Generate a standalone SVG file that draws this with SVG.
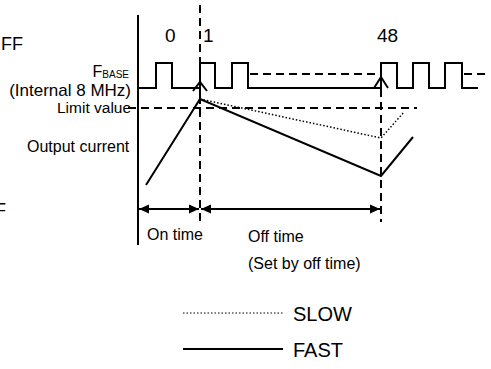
<svg xmlns="http://www.w3.org/2000/svg" width="491" height="369" viewBox="0 0 491 369">
<defs>
<style>
text{font-family:"Liberation Sans",Arial,sans-serif;fill:#000}
.lbl{font-size:16px}
.num{font-size:19px}
.leg{font-size:20px}
.s{fill:none;stroke:#000;stroke-width:2}
.d{fill:none;stroke:#000;stroke-width:2;stroke-dasharray:8,5}
.dot{fill:none;stroke:#000;stroke-width:1.5;stroke-dasharray:1.5,2}
</style>
<marker id="ah" viewBox="0 0 10 10" refX="10" refY="5" markerWidth="10" markerHeight="10" markerUnits="userSpaceOnUse" orient="auto-start-reverse">
<path d="M0,0.5 L10,5 L0,9.5 Z" fill="#000"/>
</marker>
</defs>
<rect width="491" height="369" fill="#fff"/>
<g id="clipped-labels">
<text class="lbl" x="1" y="50" style="font-size:18px">FF</text>
<text class="lbl" x="-5" y="216" style="font-size:18px">F</text>
</g>
<g id="labels">
<text class="lbl" x="129" y="77" text-anchor="end">F<tspan font-size="10" dy="1">BASE</tspan></text>
<text class="lbl" x="131" y="96" text-anchor="end" style="font-size:17px">(Internal 8 MHz)</text>
<text class="lbl" x="57" y="113" style="font-size:15.5px">Limit value</text>
<text class="lbl" x="27" y="152">Output current</text>
<text class="num" x="165" y="42">0</text>
<text class="num" x="203" y="42">1</text>
<text class="num" x="377" y="42">48</text>
<text class="lbl" x="147" y="240">On time</text>
<text class="lbl" x="248" y="242">Off time</text>
<text class="lbl" x="248" y="269">(Set by off time)</text>
</g>
<g id="axis">
<line class="s" x1="138" y1="15" x2="138" y2="245"/>
</g>
<g id="clock">
<path class="s" d="M138,88 H156 V63 H172 V88 H200 V63 H215 V88 H232 V63 H248 V88 H381 V63 H397 V88 H413 V63 H429 V88 H445 V63 H462 V88 H478"/>
<line class="d" x1="250" y1="74" x2="378" y2="74"/>
<line class="d" x1="464" y1="74" x2="487" y2="74"/>
</g>
<g id="current">
<path class="s" d="M146,185 L200,99 L381,176 L413,137"/>
<path class="dot" d="M200,99 L381,138 L404,112"/>
</g>
<g id="connectors">
<line class="d" x1="200" y1="5" x2="200" y2="223"/>
<line class="d" x1="381" y1="63" x2="381" y2="222"/>
<line class="d" x1="128" y1="108" x2="417" y2="108"/>
<line class="s" x1="200" y1="82" x2="200" y2="100"/>
<path class="s" d="M193,91 L200,82 L207,91"/>
<line class="s" x1="381" y1="77" x2="381" y2="95"/>
<path class="s" d="M374,88 L381,77 L388,88"/>
<line class="s" x1="139" y1="209" x2="199" y2="209" marker-start="url(#ah)" marker-end="url(#ah)"/>
<line class="s" x1="201" y1="209" x2="380" y2="209" marker-start="url(#ah)" marker-end="url(#ah)"/>
</g>
<g id="legend">
<line class="dot" x1="183" y1="313" x2="283" y2="313" style="stroke-width:1"/>
<text class="leg" x="293" y="321">SLOW</text>
<line class="s" x1="183" y1="349" x2="283" y2="349"/>
<text class="leg" x="293" y="357">FAST</text>
</g>
</svg>
